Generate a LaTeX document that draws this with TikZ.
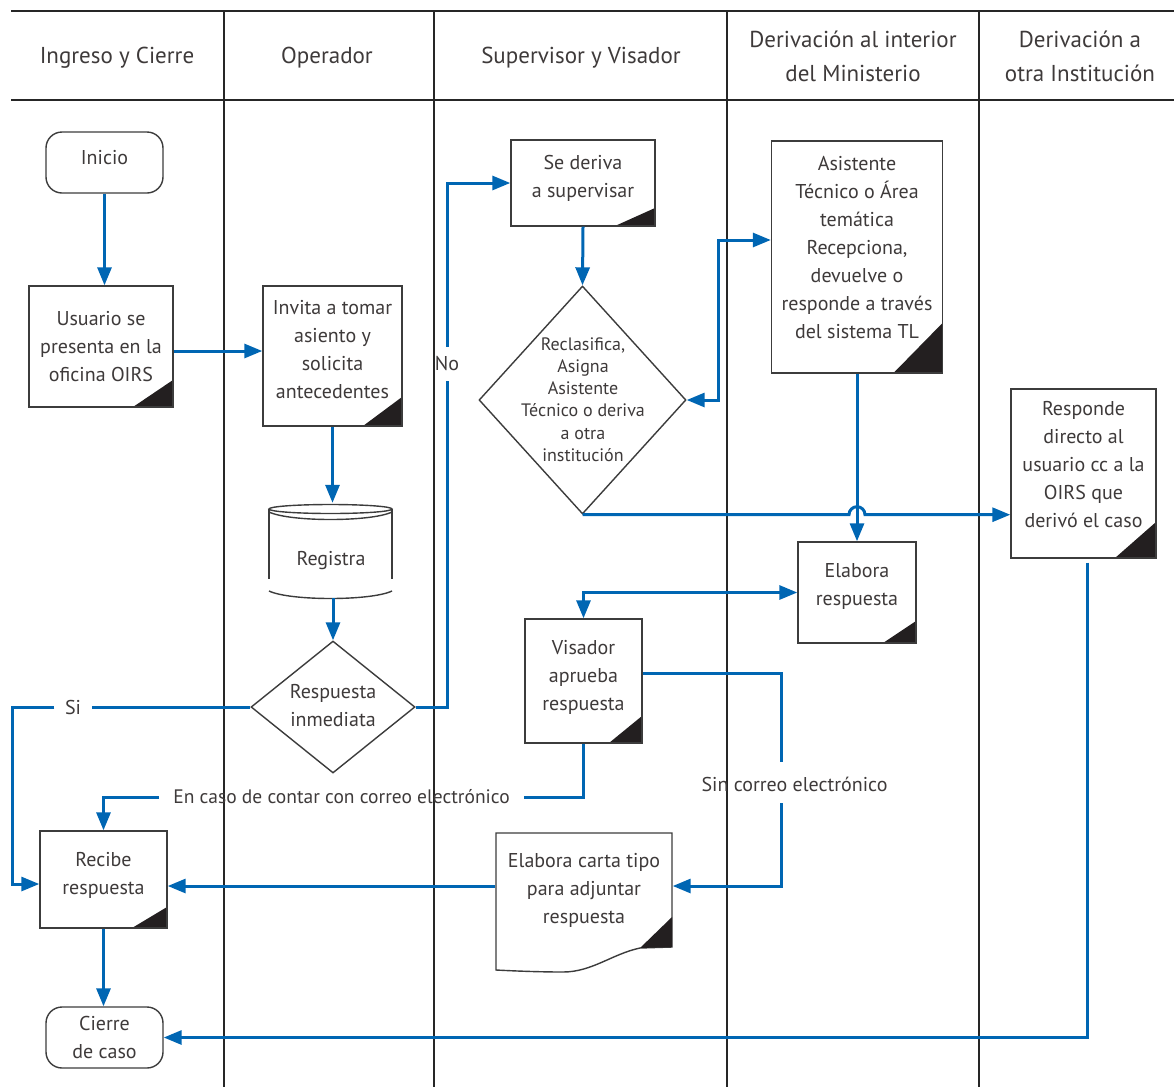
\documentclass[tikz,border=0pt]{standalone}
\usepackage{fontspec}
\setmainfont{PT Sans}
\usetikzlibrary{shapes.geometric,arrows.meta,calc}
\definecolor{flowblue}{RGB}{0,102,179}
\definecolor{txt}{RGB}{62,58,58}
\definecolor{edge}{RGB}{60,60,60}
\definecolor{cornerfill}{RGB}{35,31,32}
\begin{document}
\begin{tikzpicture}[x=1pt,y=-1pt,
  every node/.style={text=txt},
  grid/.style={draw=black!85, line width=1.3pt},
  head/.style={align=center, inner sep=0pt, font=\fontsize{23}{34}\selectfont},
  box/.style={draw=edge, line width=1.4pt, fill=white, align=center, inner sep=0pt, font=\fontsize{20}{28}\selectfont},
  dogear/.style 2 args={path picture={\fill[cornerfill] (path picture bounding box.south east) -- ++(-#1pt,0pt) -- ++(#1pt,#2pt) -- cycle;}},
  diam/.style={diamond, draw=edge, line width=1.4pt, fill=white, inner sep=0pt},
  dtext/.style={align=center, inner sep=0pt, font=\fontsize{20}{28}\selectfont},
  lbl/.style={inner sep=0pt, font=\fontsize{20}{28}\selectfont},
  shapeline/.style={draw=edge, line width=1.4pt},
  line/.style={draw=flowblue, line width=3pt},
  flow/.style={line, -{Triangle[length=18pt,width=14pt]}},
  flow2/.style={line, {Triangle[length=18pt,width=14pt]}-{Triangle[length=18pt,width=14pt]}}
]
\useasboundingbox (0,0) rectangle (1174,1087);

% swimlane grid
\draw[grid] (11,11) -- (1174,11);
\draw[grid] (11,100) -- (1174,100);
\foreach \x in {224,434,727,979} \draw[grid] (\x,11) -- (\x,1087);

% headers
\node[head] (h1) at (117,58) {Ingreso y Cierre};
\node[head] (h2) at (327,58) {Operador};
\node[head] (h3) at (581,58) {Supervisor y Visador};
\node[head] (h4) at (853,56) {Derivación al interior\\del Ministerio};
\node[head] (h5) at (1080,56) {Derivación a\\otra Institución};

% nodes
\node[box, rounded corners=16pt, minimum width=117pt, minimum height=61pt] (inicio) at (104.5,162.5) {Inicio\\[-17pt]\mbox{}};
\node[box, dogear={40}{27}, minimum width=144pt, minimum height=121pt] (usuario) at (101,346.5) {Usuario se\\presenta en la\\oficina OIRS};
\node[box, dogear={39}{29}, minimum width=139pt, minimum height=140pt] (invita) at (332.5,356) {Invita a tomar\\asiento y\\solicita\\antecedentes\\[-15pt]\mbox{}};

% Registra (stored data)
\node[minimum width=123pt, minimum height=95pt, inner sep=0pt] (reg) at (330.5,550.5) {};
\draw[shapeline] (269,509) -- (269,579);
\draw[shapeline] (392,509) -- (392,579);
\draw[shapeline] (330.5,509) ellipse [x radius=61.5pt, y radius=4.5pt];
\draw[shapeline] (269,512) .. controls (290,522) and (371,522) .. (392,512);
\draw[shapeline] (269,591) .. controls (290,601) and (371,601) .. (392,591);
\node[lbl] (regtext) at (331,561) {Registra};

\node[diam, minimum width=164pt, minimum height=132pt] (ri) at (333,707) {};
\node[dtext] (ritext) at (333,706) {Respuesta\\inmediata};

\node[box, dogear={40}{18}, minimum width=144pt, minimum height=86pt] (sd) at (583,183) {Se deriva\\a supervisar\\[-15pt]\mbox{}};

\node[diam, minimum width=207pt, minimum height=228pt] (rc) at (582.5,400) {};
\node[dtext, font=\fontsize{18}{22.2}\selectfont] (rctext) at (583,399.5) {Reclasifica,\\Asigna\\Asistente\\Técnico o deriva\\a otra\\institución};

\node[box, dogear={49}{50}, minimum width=171pt, minimum height=232pt] (ast) at (857,257) {Asistente\\Técnico o Área\\temática\\Recepciona,\\devuelve o\\responde a través\\del sistema TL\\[-9pt]\mbox{}};

\node[box, dogear={41}{36}, minimum width=145pt, minimum height=169pt] (resp2) at (1083.5,473.5) {Responde\\directo al\\usuario cc a la\\OIRS que\\derivó el caso\\[-9pt]\mbox{}};

\node[box, dogear={33}{22}, minimum width=118pt, minimum height=101pt] (elab) at (857,592.5) {Elabora\\respuesta\\[-11pt]\mbox{}};

\node[box, dogear={33}{27}, minimum width=117pt, minimum height=124pt] (vis) at (583.5,681) {Visador\\aprueba\\respuesta\\[-16pt]\mbox{}};

% Elabora carta (document shape)
\draw[shapeline, fill=white] (496,833) -- (672,833) -- (672,947) -- (640,948) .. controls (612,954) and (592,972) .. (563,972) .. controls (540,972) and (515,971) .. (496,970) -- cycle;
\fill[cornerfill] (640,948) -- (672,947) -- (672,917) -- cycle;
\node[box, draw=none, fill=none, minimum width=176pt, minimum height=114pt] (carta) at (584,890) {Elabora carta tipo\\para adjuntar\\respuesta};

\node[box, dogear={35}{21}, minimum width=127pt, minimum height=97pt] (rec) at (103.5,879.5) {Recibe\\respuesta\\[-16pt]\mbox{}};
\node[box, rounded corners=16pt, minimum width=117pt, minimum height=61pt] (cierre) at (104.5,1037.5) {Cierre\\de caso};

% labels
\node[lbl, inner xsep=10.5pt] (si) at (73,707) {Si};
\node[lbl, inner ysep=10pt, inner xsep=1pt] (no) at (447,364) {No};
\node[lbl, inner xsep=14pt, font=\fontsize{19.5}{28}\selectfont] (mail) at (341.5,797) {En caso de contar con correo electrónico};
\node[lbl] (sin) at (794.5,784) {Sin correo electrónico};

% connectors
\draw[flow] (inicio.south) -- (inicio.south |- usuario.north);
\coordinate (ue) at ($(usuario.east)+(0,4.5)$);
\draw[flow] (ue) -- (ue -| invita.west);
\draw[flow] (invita.south) -- (invita.south |- reg.north);
\draw[flow] (ri.north |- reg.south) -- (ri.north);

\draw[line] (ri.east) -| (no.south);
\draw[flow] (no.north) |- (sd.west);

\draw[line] (ri.west) -- (si.east);
\coordinate (lm) at (12,707);
\coordinate (rw) at ($(rec.west)+(0,4.5)$);
\draw[flow] (si.west) -- (lm) |- (rw);

\draw[flow] (sd.south) -- (rc.north);

\coordinate (aw) at ($(ast.west)+(0,-17)$);
\coordinate (hx) at (718,300);
\draw[flow2] (rc.east) -| (hx) |- (aw);

\draw[flow] (ast.south) -- (elab.north);
\coordinate (hop) at (rc.south -| ast.south);
\draw[flow] (rc.south) -- ($(hop)+(-8,0)$) arc[start angle=180, end angle=0, radius=8pt] -- (rc.south -| resp2.west);

\draw[flow2] (elab.west) -| (vis.north);

\draw[line] (vis.south) |- (mail.east);
\draw[flow] (mail.west) -| (rec.north);

\coordinate (ve) at ($(vis.east)+(0,-8)$);
\coordinate (s1) at (781,762);
\coordinate (s2) at (781,803);
\coordinate (ce) at ($(carta.east)+(0,-4)$);
\draw[line] (ve) -| (s1);
\draw[flow] (s2) |- (ce);

\coordinate (cw) at ($(carta.west)+(0,-4)$);
\draw[flow] (cw) -- (cw -| rec.east);

\draw[flow] (rec.south) -- (rec.south |- cierre.north);
\coordinate (rs) at ($(resp2.south)+(3.5,4)$);
\draw[flow] (rs) |- (cierre.east);
\end{tikzpicture}
\end{document}
